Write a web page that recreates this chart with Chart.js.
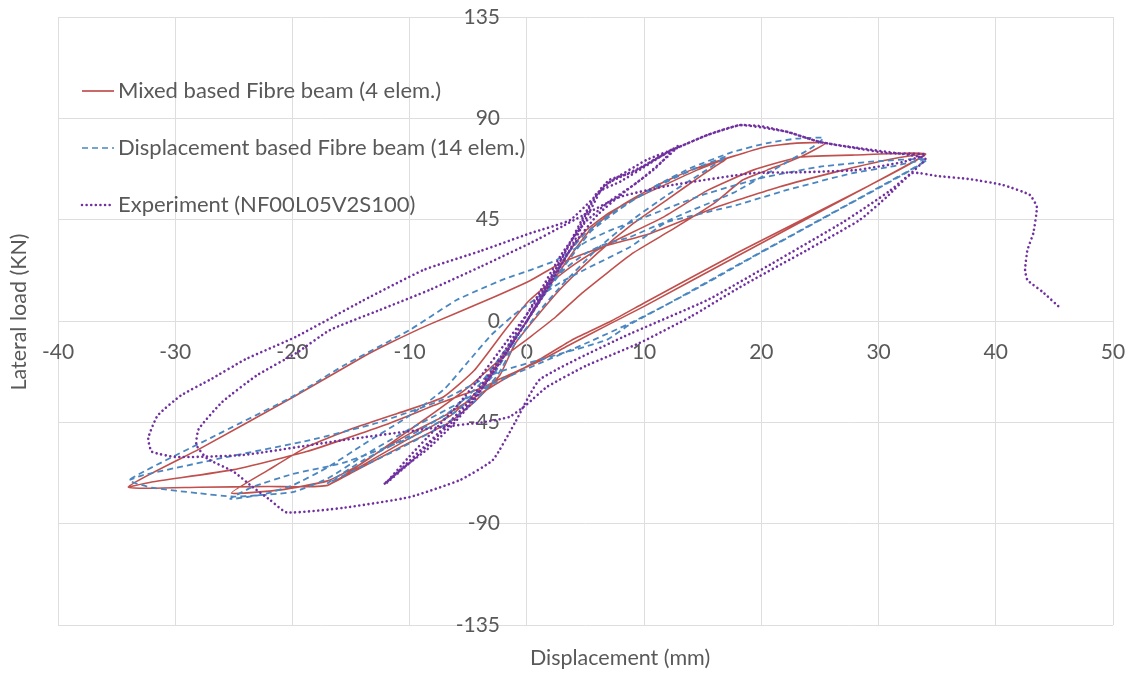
<!DOCTYPE html>
<html><head><meta charset="utf-8">
<script src="https://cdn.jsdelivr.net/npm/chart.js@4"></script>
<style>html,body{margin:0;padding:0;background:#fff}canvas{display:block}</style>
</head><body>
<canvas id="c" width="1133" height="678"></canvas>
<script>
// ---- Data (displacement mm, lateral load kN) ----
const seriesNames = [
  "Mixed based Fibre beam (4 elem.)",
  "Displacement based Fibre beam (14 elem.)",
  "Experiment (NF00L05V2S100)"
];
const xTickValues = [-40,-30,-20,-10,0,10,20,30,40,50];
const yTickValues = [-135,-90,-45,0,45,90,135];

const mixedPath = [
  [0,0],[1,9],[2,18],[3.5,30],[5,40],[7,48],[9.5,55],[12,61],[14.5,67],[17,72],
  [15,65],[12,54],[9,43],[6,30],[3,15],[1,3],[-1,-10],[-2.3,-24],[-4.5,-36],[-6.6,-45],[-10.8,-56],[-15,-67.5],[-17,-73],
  [-14,-64],[-10,-52],[-6.5,-42],[-4,-30],[-2,-15],[0,0],[2,16],[4,31],[5.5,41],[8,51],[11,60],[14,67],[17.5,73],[20.3,77.3],[23,79],[25.5,79],
  [23.4,73],[20.5,67],[18.4,62.6],[15.9,52],[12.2,40],[9,30],[4.7,12.4],[2.5,2],[0.3,-7],[-2.5,-18],[-4.9,-29],[-8,-41],[-11,-52],[-14,-63],[-17,-71],[-21,-75],[-25.2,-76.4],
  [-22,-66],[-18.8,-56],[-15,-48],[-11,-41],[-7.2,-34],[-4.5,-22],[-2,-5],[0,8],[2,17],[4.3,26],[6.5,33],
  [11.6,46],[15.4,58],[19.3,67],[23.3,72.8],[28,73.7],[34,74],
  [25,49],[18.2,31],[10,8],[7.2,0],[4,-8],[1.1,-17],[-2,-26],[-4.5,-34],[-7,-42],[-10,-50],[-13.5,-61],[-17,-73],[-22,-73.5],[-28,-73.8],[-34,-73.7],
  [-28,-57],[-20,-34],[-14,-16],[-11.7,-9.8],[-8.3,-1.5],[-3.4,9.3],[0.3,18],[3,26],[6.5,33],
  [10.6,39],[16.2,50.6],[21.5,59.5],[26.2,66],[30.7,71.5],[34,74],
  [25,48.5],[18,29],[10,6.5],[7,-1.5],[3.5,-11],[1,-18],[-2,-25],[-4,-30],[-7.2,-36],[-12,-46],[-18.8,-58],[-25,-66],[-32,-71.5],[-34,-73.7]
];

const displacementPath = [
  [0,0],[1,9],[2,18],[3.5,30],[5,39],[7,47],[9.5,55],[12,62],[14.5,68],[17,73],
  [15,66],[12,56],[9,45],[6,32],[3,16],[1,4],[-1,-10],[-2.5,-24],[-4.5,-36],[-7,-46],[-11,-57],[-15,-67],[-17,-72],
  [-14,-62],[-10,-51],[-6.5,-40],[-4,-28],[-2,-14],[0,0],[2,16],[4,30],[5.5,40],[8,50],[11,60],[14,68],[17.5,75],[20.5,79],[23,81],[25.3,81.3],
  [24.4,77.3],[21,67],[17.6,56.9],[12.2,44.9],[8.8,32.9],[5,23],[2.8,16.9],[-0.6,4.9],[-3,-6],[-5,-18],[-7,-30],[-10,-42],[-14,-55],[-17,-65],[-20,-73],[-22.5,-77],[-25.3,-79],
  [-23.4,-73.7],[-20,-68],[-15.7,-63],[-10,-52],[-6,-40],[-3,-25],[-1,-8],[1,8],[3,22],[5,30],[6.5,33.8],[8.8,37.3],[11.6,43.5],[17.9,51.5],[22.2,58.2],[27.8,65.7],[31,68.5],[34.1,71.5],
  [25,45],[18,25],[12,7.5],[8.8,-1],[5,-10],[1,-19],[-3,-28],[-6,-37],[-10,-48],[-14,-60],[-17,-70],[-20,-76],[-25,-78],[-28,-76.5],[-32,-74],[-33.9,-70.6],
  [-27,-52],[-20,-33.6],[-15.7,-20],[-10,-4],[-6,9.3],[-2,18.5],[0.3,22.6],[2.5,27],[5,35],[7,40],[10,46],[15,56],[20,63.5],[25,68.5],[30,71],[34.1,71.5],
  [27,50.5],[20,30.5],[14,13],[8.8,-1.5],[6.8,-8.4],[3.1,-14.2],[-2.6,-23],[-7.2,-35],[-12.8,-45.3],[-18.5,-52.9],[-25.6,-60.4],[-32.8,-68.5],[-33.9,-70.6]
];

const experimentPath = [
  [0,0],[1.5,14],[3,28],[4.5,42],[5.5,52],[6.5,60],[8,64],[10,69],[12,75],[13,78],
  [12,73],[10,64],[8,56],[6,47],[4,34],[2,17],[0,0],[-2,-16],[-4,-31],[-6,-43],[-8,-53],[-10,-63],[-12,-72],
  [-10,-60],[-8,-49],[-6,-38],[-4,-25],[-2,-11],[0,3],[2,19],[3.5,33],[5,48],[6,57],[8,62],[10.5,70],[12.5,76.5],
  [11,68],[9,60],[7,53],[5,44],[3,30],[1,12],[-1,-6],[-3,-22],[-5,-36],[-7,-47],[-9,-57],[-11,-67],[-12.2,-72.5],
  [-10.5,-65],[-8.5,-57],[-6.5,-47],[-4.5,-35],[-2.5,-20],[-0.5,-4],[1.5,12],[3.5,30],[5,45],[6.2,57],[7,62.6],[9,66],[11,72],[13,77.3],[15.4,82.6],[18.2,87],
  [22.2,84],[25,79.5],[30.7,74.6],[34,74],
  [32,70.5],[28,67],[23,66],[19.3,65.7],[12,60],[7.9,55],[3,42],[0.3,34.6],[-4,24],[-8.3,13.8],[-12.5,5],[-16.8,-4],[-19.6,-14],[-23,-24],[-26,-36],[-28,-48],[-28.2,-55],[-27.3,-61],[-25,-67],[-23.4,-73.7],[-21.9,-79.5],[-20.5,-85],
  [-15.7,-83],[-10,-78.2],[-5.7,-70.6],[-2.9,-61.7],[-1,-45],[1.1,-26],[8.2,-7.1],[15.4,9.3],[21,25.8],[27,44],[31,58],[34,72],
  [32,74.2],[28,77],[25,79.5],[22.2,84],[20,86.5],[18.2,87],[15.4,82.6],[13,77.3],[10.2,71.5],[7.1,61.7],[3.7,44.9],[0.3,39],[-4,31],[-8.8,22.7],[-14,9],[-19.7,-7],[-24,-17],[-27,-26],[-29.5,-33],[-31.5,-42],[-32.3,-52],[-32,-58],
  [-29.9,-60.4],[-24.2,-59.5],[-15.7,-52.9],[-7.2,-47],[-3.8,-45],[-1.5,-42.6],[0,-37],[1.7,-29.3],[5,-20],[9.6,-9.8],[14,2],[18.2,15.1],[23.9,31.5],[28.4,44.9],[30.7,55.1],[32.9,65.7],
  [35,64.4],[37.8,63],[40.6,60.4],[42.9,56],[43.5,50.6],[43.2,39],[42.7,31.5],[42.5,22.7],[42.7,18.2],[44,12.9],[45.6,5.3]
];

// ---- Styles ----
const FONT = "Lato, 'Open Sans', sans-serif";
const TEXT = "#595959";
const GRID = "#dedede";
const COLORS = ["#c0504d", "#4a86c0", "#7030a0"];
const DASHES = [[], [6,4], [0.01,4.6]];

function toPts(a){ return a.map(p => ({x:p[0], y:p[1]})); }
function noPad(s){ s.paddingTop = 0; s.paddingBottom = 0; s.paddingLeft = 0; s.paddingRight = 0; }

const overlay = {
  id: 'overlay',
  afterDraw(chart){
    const ctx = chart.ctx;
    ctx.save();
    const rows = [91, 148, 205];
    for (let i=0;i<3;i++){
      ctx.beginPath();
      ctx.strokeStyle = COLORS[i];
      ctx.lineWidth = i===2 ? 2.6 : 1.7;
      ctx.lineCap = i===2 ? 'round' : 'butt';
      ctx.setLineDash(DASHES[i]);
      ctx.moveTo(82, rows[i]); ctx.lineTo(114, rows[i]);
      ctx.stroke();
      ctx.setLineDash([]);
      ctx.fillStyle = TEXT;
      ctx.font = "22px " + FONT;
      ctx.textAlign = 'left';
      ctx.textBaseline = 'middle';
      ctx.fillText(seriesNames[i], 118, rows[i]);
    }
    ctx.font = "21.5px " + FONT;
    ctx.fillStyle = TEXT;
    ctx.textAlign = 'center';
    ctx.textBaseline = 'middle';
    ctx.fillText("Displacement (mm)", 620, 658);
    ctx.translate(19, 312);
    ctx.rotate(-Math.PI/2);
    ctx.fillText("Lateral load (KN)", 0, 0);
    ctx.restore();
  }
};

new Chart(document.getElementById('c'), {
  type: 'scatter',
  data: {
    datasets: [
      { label: seriesNames[0], data: toPts(mixedPath), showLine: true, borderColor: COLORS[0], borderWidth: 1.6, pointRadius: 0, tension: 0.15, order: 2 },
      { label: seriesNames[1], data: toPts(displacementPath), showLine: true, borderColor: COLORS[1], borderWidth: 1.8, borderDash: DASHES[1], pointRadius: 0, tension: 0.15, order: 1 },
      { label: seriesNames[2], data: toPts(experimentPath), showLine: true, borderColor: COLORS[2], borderWidth: 2.6, borderDash: DASHES[2], borderCapStyle: 'round', pointRadius: 0, tension: 0.15, order: 0 }
    ]
  },
  options: {
    responsive: false,
    animation: false,
    layout: { padding: { left: 58, right: 20, top: 17, bottom: 53 } },
    plugins: { legend: { display: false }, tooltip: { enabled: false } },
    scales: {
      x: {
        type: 'linear', min: -40, max: 50,
        position: { y: 0 },
        afterBuildTicks: s => { s.ticks = xTickValues.map(v => ({value: v})); },
        afterFit: noPad,
        ticks: { color: TEXT, font: { family: FONT, size: 21 }, padding: 19, maxRotation: 0 },
        grid: { color: GRID, lineWidth: 1, drawTicks: false },
        border: { color: GRID }
      },
      y: {
        type: 'linear', min: -135, max: 135,
        position: { x: 0 },
        afterBuildTicks: s => { s.ticks = yTickValues.map(v => ({value: v})); },
        afterFit: noPad,
        ticks: { color: TEXT, font: { family: FONT, size: 21 }, padding: 0,
                 callback: v => String(v) + '     ' },
        grid: { color: GRID, lineWidth: 1, drawTicks: false },
        border: { color: GRID }
      }
    }
  },
  plugins: [overlay]
});
</script>
</body></html>
